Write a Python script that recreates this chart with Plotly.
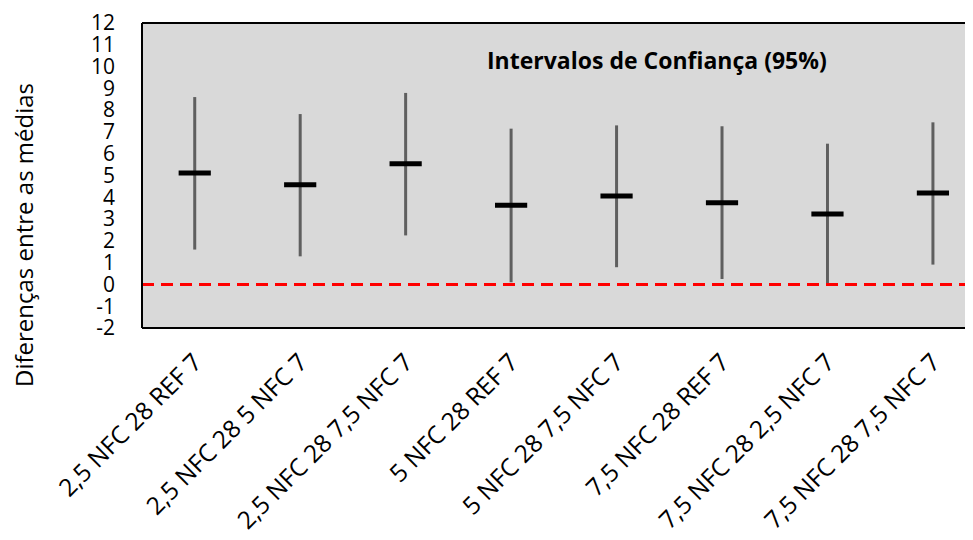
import plotly.graph_objects as go

categories = ["2,5 NFC 28 REF 7", "2,5 NFC 28 5 NFC 7", "2,5 NFC 28 7,5 NFC 7",
              "5 NFC 28 REF 7", "5 NFC 28 7,5 NFC 7", "7,5 NFC 28 REF 7",
              "7,5 NFC 28 2,5 NFC 7", "7,5 NFC 28 7,5 NFC 7"]
means = [5.12, 4.58, 5.54, 3.63, 4.06, 3.75, 3.23, 4.20]
lower = [1.60, 1.29, 2.25, 0.10, 0.79, 0.25, -0.05, 0.91]
upper = [8.60, 7.82, 8.79, 7.15, 7.30, 7.26, 6.46, 7.44]
y_ticks = list(range(-2, 13))

FONT = "Open Sans"
OFF = 8                      # page body margin
W, H = 973 - OFF, 540 - OFF
L, T = 142 - OFF, 23 - OFF
PLOT_BOTTOM = 328
B = OFF + H - PLOT_BOTTOM
PW = W - L
PH = PLOT_BOTTOM - 23


def px(xp):
    return (xp - 142) / PW


def py(yp):
    return (PLOT_BOTTOM - yp) / PH


fig = go.Figure()
fig.add_trace(go.Scatter(
    x=list(range(len(categories))), y=means, mode="markers",
    marker=dict(symbol="line-ew", size=23, line=dict(width=5, color="black"), color="black"),
    error_y=dict(type="data", symmetric=False,
                 array=[u - m for u, m in zip(upper, means)],
                 arrayminus=[m - l for m, l in zip(means, lower)],
                 width=0, thickness=3, color="#5f5f5f"),
    showlegend=False, hoverinfo="skip"))

# zero reference line
fig.add_shape(type="line", xref="paper", yref="y", x0=0, x1=1, y0=0, y1=0,
              line=dict(color="#ff0000", width=3, dash="12px,7px"))
# plot frame (right side is cut off in the reference)
for x0, y0, x1, y1 in [(0, 0, 1, 0), (0, 1, 1, 1), (0, 0, 0, 1)]:
    fig.add_shape(type="line", xref="paper", yref="paper", x0=x0, y0=y0, x1=x1, y1=y1,
                  line=dict(color="black", width=2))

fig.add_annotation(text="<b>Intervalos de Confiança (95%)</b>", xref="paper", yref="paper",
                   x=px(657), y=py(60), xanchor="center", yanchor="middle",
                   showarrow=False, font=dict(family=FONT, size=23, color="black"))
fig.add_annotation(text="Diferenças entre as médias", xref="paper", yref="paper",
                   x=px(23), y=py(235), xanchor="center", yanchor="middle",
                   textangle=-90, showarrow=False, font=dict(family=FONT, size=24, color="black"))

fig.update_layout(
    width=W, height=H, margin=dict(l=L, r=0, t=T, b=B, autoexpand=False),
    paper_bgcolor="white", plot_bgcolor="#d9d9d9",
    font=dict(family=FONT, size=21, color="black"),
    xaxis=dict(range=[-0.5, 7.38], tickmode="array", tickvals=list(range(len(categories))),
               ticktext=categories, tickangle=-45, showgrid=False, zeroline=False,
               showline=False, ticks="", tickfont=dict(size=24.5), automargin=False,
               ticklabelstandoff=14, ticklabeloverflow="allow"),
    yaxis=dict(range=[-2, 12], tickmode="array", tickvals=y_ticks,
               ticktext=[str(v) for v in y_ticks], showgrid=False, zeroline=False,
               showline=False, ticks="", ticklabelstandoff=26, tickfont=dict(size=21),
               automargin=False, ticklabeloverflow="allow"),
)
fig.write_html("out.html")
